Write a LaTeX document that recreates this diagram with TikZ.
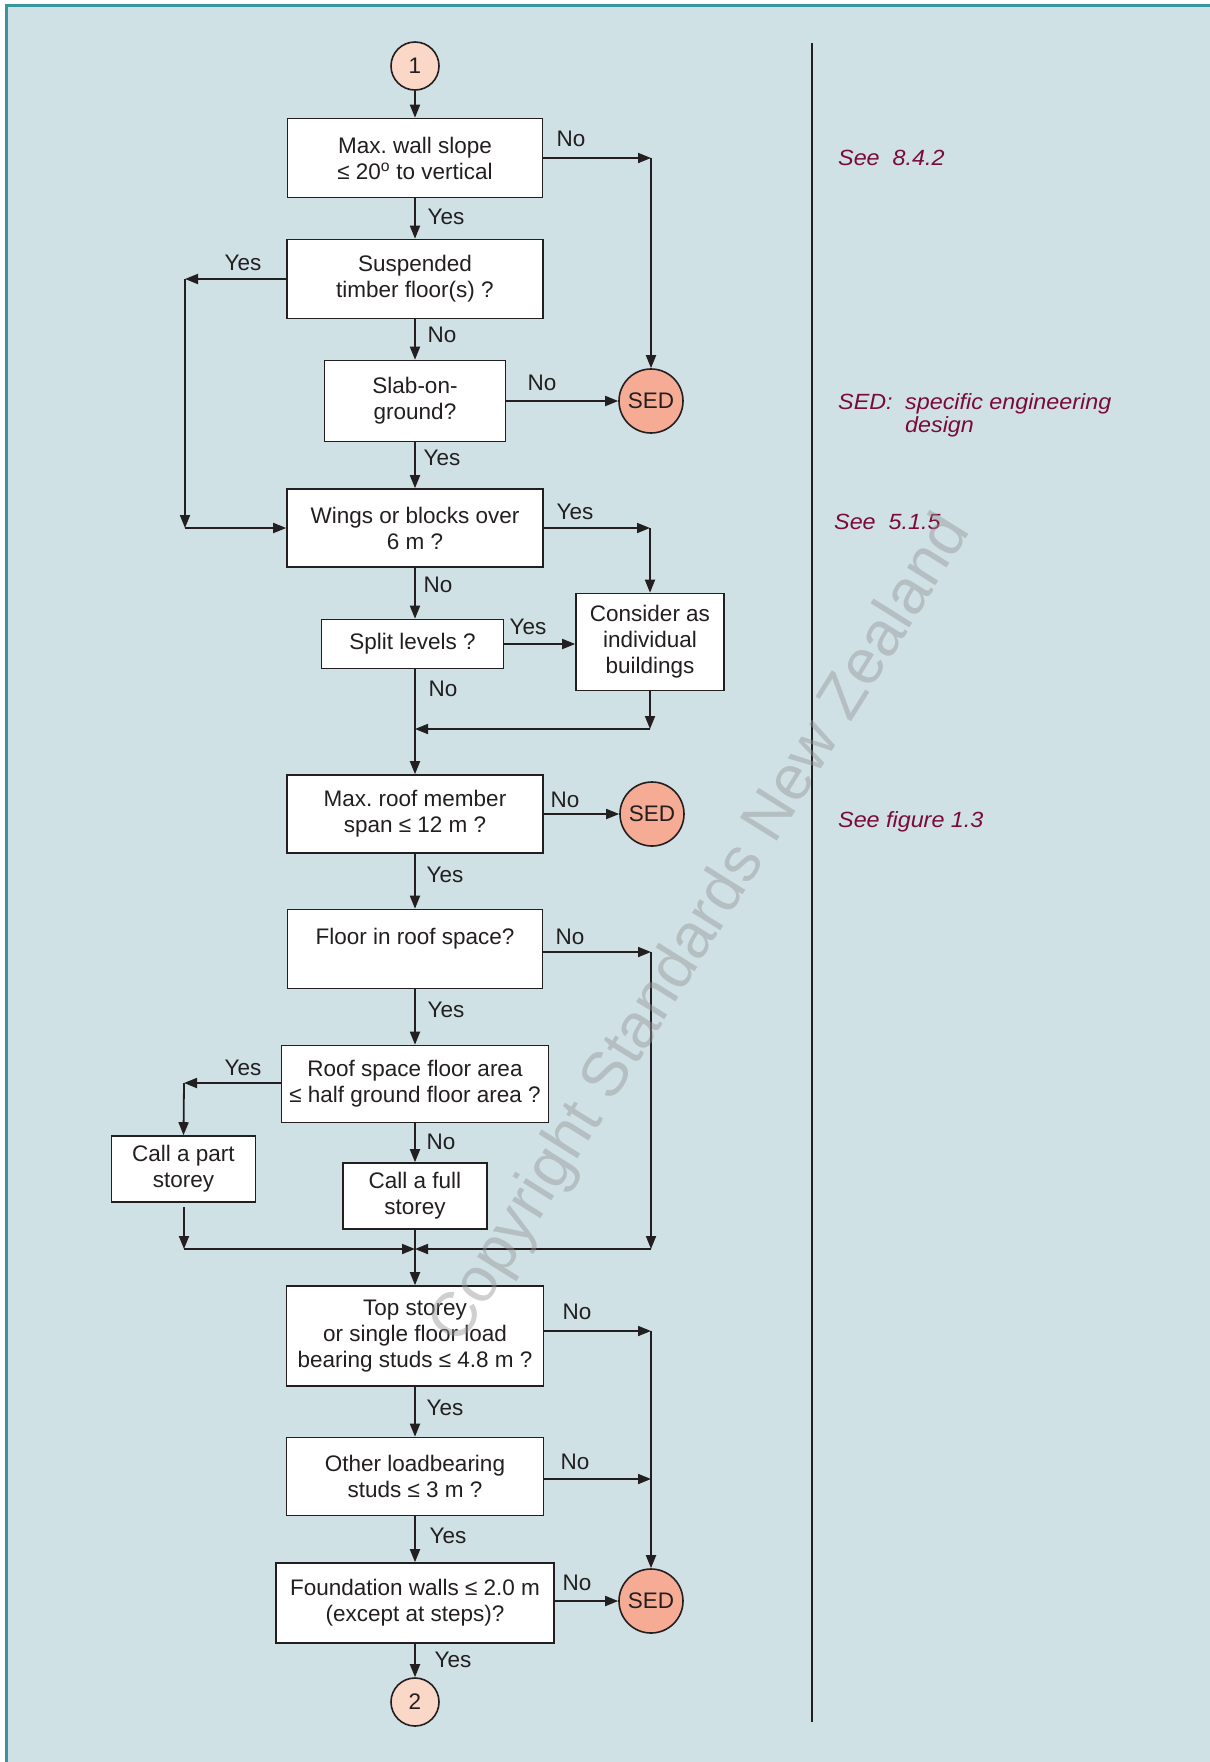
\documentclass[tikz,border=0pt]{standalone}
\usepackage{fontspec}
\setmainfont{Liberation Sans}
\newfontfamily\notefamily[FakeStretch=1.06]{Liberation Sans}
\usetikzlibrary{arrows.meta}
\definecolor{bgcol}{RGB}{207,225,229}
\definecolor{tealb}{RGB}{56,150,156}
\definecolor{ink}{RGB}{35,31,32}
\definecolor{peach}{RGB}{250,215,198}
\definecolor{salmon}{RGB}{246,172,148}
\definecolor{notecol}{RGB}{122,10,60}
\definecolor{wmgray}{RGB}{150,150,150}
\newcommand\boxfont{\fontsize{22.5pt}{26pt}\selectfont}
\newcommand\notesize{\notefamily\itshape\fontsize{22pt}{26pt}\selectfont}
\frenchspacing
\begin{document}
\begin{tikzpicture}[x=1pt,y=-1pt,
  box/.style={draw=ink,fill=white,line width=1.6pt,align=center,inner sep=0pt,font=\boxfont,text=ink},
  startc/.style={circle,draw=ink,fill=peach,line width=1.6pt,minimum size=48pt,inner sep=0pt,font=\boxfont,text=ink},
  sed/.style={circle,draw=ink,fill=salmon,line width=1.6pt,minimum size=64pt,inner sep=0pt,font=\boxfont,text=ink},
  lbl/.style={inner sep=0pt,font=\boxfont,text=ink},
  conn/.style={draw=ink,line width=1.8pt,-{Triangle[length=13pt,width=10pt]}},
  note/.style={anchor=base west,inner sep=0pt,font=\notesize,text=notecol},
]
\useasboundingbox (0,0) rectangle (1210,1762);
\fill[white] (0,0) rectangle (1210,1762);
\fill[bgcol] (6.5,5.5) rectangle (1210,1762);
\draw[tealb,line width=2.6pt] (6.5,1762) -- (6.5,5.5) -- (1210,5.5);

% divider
\coordinate (d1) at (812,43);
\coordinate (d2) at (812,1722);
\draw[ink,line width=1.8pt] (d1) -- (d2);

% nodes
\node[startc] (c1) at (415,66) {1};
\node[box,minimum width=255pt,minimum height=79pt] (b1) at (415,158) {Max. wall slope\\≤ 20\textsuperscript{o} to vertical};
\node[box,minimum width=256pt,minimum height=79pt] (b2) at (415,279) {Suspended\\timber floor(s) ?};
\node[box,minimum width=181pt,minimum height=81pt] (b3) at (415,401) {Slab-on-\\ground?};
\node[sed] (s1) at (651,401) {SED};
\node[box,minimum width=256pt,minimum height=78pt] (b4) at (415,528) {Wings or blocks over\\6 m ?};
\node[box,minimum width=148pt,minimum height=97pt] (cons) at (650,642) {Consider as\\individual\\buildings};
\node[box,minimum width=182pt,minimum height=49pt] (b5) at (412.5,644) {Split levels ?};
\node[box,minimum width=256pt,minimum height=78pt] (b6) at (415,814) {Max. roof member\\span ≤ 12 m ?};
\node[sed] (s2) at (652,814) {SED};
\node[box,minimum width=255pt,minimum height=79pt] (b7) at (415,949) {Floor in roof space?\\\mbox{}};
\node[box,minimum width=267pt,minimum height=77pt] (b8) at (415,1084) {Roof space floor area\\≤ half ground floor area ?};
\node[box,minimum width=144pt,minimum height=66pt] (b9) at (183.5,1169) {Call a part\\storey};
\node[box,minimum width=144pt,minimum height=66pt] (b10) at (415,1196) {Call a full\\storey};
\node[box,minimum width=257pt,minimum height=100pt] (b11) at (415,1336) {Top storey\\or single floor load\\bearing studs ≤ 4.8 m ?};
\node[box,minimum width=257pt,minimum height=78pt] (b12) at (415,1476.5) {Other loadbearing\\studs ≤ 3 m ?};
\node[box,minimum width=278pt,minimum height=80pt] (b13) at (415,1603) {Foundation walls ≤ 2.0 m\\(except at steps)?};
\node[sed] (s3) at (651,1601) {SED};
\node[startc] (c2) at (415,1702) {2};

% junction coordinates
\coordinate (k1) at (651,158);
\coordinate (k2) at (185,279);
\coordinate (k3) at (185,528);
\coordinate (k4) at (650,528);
\coordinate (k5) at (650,729);
\coordinate (k6) at (415,729);
\coordinate (k7) at (651,952);
\coordinate (k8) at (651,1249);
\coordinate (k9) at (415,1249);
\coordinate (k10) at (184,1083);
\coordinate (k11) at (184,1207);
\coordinate (k12) at (184,1249);
\coordinate (k13) at (651,1331);
\coordinate (k14) at (651,1479);

% connectors
\draw[conn] (c1.south) -- (b1.north);
\draw[conn] (b1.east) -- (k1);
\draw[conn] (k1) -- (s1.north);
\draw[conn] (b1.south) -- (b2.north);
\draw[conn] (b2.west) -- (k2);
\draw[conn] (k2) -- (k3);
\draw[conn] (k3) -- (b4.west);
\draw[conn] (b2.south) -- (b3.north);
\draw[conn] (b3.east) -- (s1.west);
\draw[conn] (b3.south) -- (b4.north);
\draw[conn] (b4.east) -- (k4);
\draw[conn] (k4) -- (cons.north);
\draw[conn] (b4.south) -- (b4.south |- b5.north);
\draw[conn] (b5.east) -- (b5.east -| cons.west);
\draw[conn] (cons.south) -- (k5);
\draw[conn] (k5) -- (k6);
\draw[conn] (b4.south |- b5.south) -- (b6.north);
\draw[conn] (b6.east) -- (s2.west);
\draw[conn] (b6.south) -- (b7.north);
\draw[conn] (k7 -| b7.east) -- (k7);
\draw[conn] (k7) -- (k8);
\draw[conn] (k8) -- (k9);
\draw[conn] (b7.south) -- (b8.north);
\draw[conn] (k10 -| b8.west) -- (k10);
\draw[conn] (k10) -- (b9.north);
\draw[conn] (b8.south) -- (b10.north);
\draw[conn] (k11) -- (k12);
\draw[conn] (k12) -- (k9);
\draw[conn] (b10.south) -- (b11.north);
\draw[conn] (k13 -| b11.east) -- (k13);
\draw[conn] (k13) -- (s3.north);
\draw[conn] (b11.south) -- (b12.north);
\draw[conn] (k14 -| b12.east) -- (k14);
\draw[conn] (b12.south) -- (b13.north);
\draw[conn] (s3.west -| b13.east) -- (s3.west);
\draw[conn] (b13.south) -- (c2.north);

% labels
\node[lbl] (l1) at (571,139) {No};
\node[lbl] (l2) at (446,217) {Yes};
\node[lbl] (l3) at (243,263) {Yes};
\node[lbl] (l4) at (442,335) {No};
\node[lbl] (l5) at (542,383) {No};
\node[lbl] (l6) at (442,458) {Yes};
\node[lbl] (l7) at (575,512) {Yes};
\node[lbl] (l8) at (438,585) {No};
\node[lbl] (l9) at (528,627) {Yes};
\node[lbl] (l10) at (443,689) {No};
\node[lbl] (l11) at (565,800) {No};
\node[lbl] (l12) at (445,875) {Yes};
\node[lbl] (l13) at (570,937) {No};
\node[lbl] (l14) at (446,1010) {Yes};
\node[lbl] (l15) at (243,1068) {Yes};
\node[lbl] (l16) at (441,1142) {No};
\node[lbl] (l17) at (577,1312) {No};
\node[lbl] (l18) at (445,1408) {Yes};
\node[lbl] (l19) at (575,1462) {No};
\node[lbl] (l20) at (448,1536) {Yes};
\node[lbl] (l21) at (577,1583) {No};
\node[lbl] (l22) at (453,1660) {Yes};

% side notes
\node[note] (n1) at (838,165) {See\ \ 8.4.2};
\node[note] (n2a) at (838,409) {SED:};
\node[note] (n2b) at (905,409) {specific engineering};
\node[note] (n3) at (905,432) {design};
\node[note] (n4) at (834,529) {See\ \ 5.1.5};
\node[note] (n5) at (838,827) {See figure 1.3};

% watermark
\node[rotate=58,inner sep=0pt,font=\fontsize{63pt}{63pt}\selectfont,text=wmgray,text opacity=0.45] (wm) at (702,930) {Copyright Standards New Zealand};
\end{tikzpicture}
\end{document}
